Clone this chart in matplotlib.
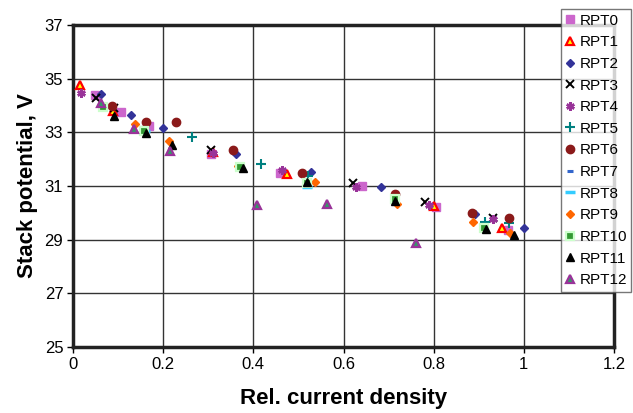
import matplotlib
matplotlib.use("Agg")
import matplotlib.pyplot as plt

series_names = ["RPT0", "RPT1", "RPT2", "RPT3", "RPT4", "RPT5", "RPT6",
                "RPT7", "RPT8", "RPT9", "RPT10", "RPT11", "RPT12"]

x_rpt0 = [0.049, 0.106, 0.169, 0.305, 0.459, 0.640, 0.806, 0.965]
y_rpt0 = [34.39, 33.77, 33.24, 32.20, 31.47, 31.00, 30.23, 29.36]
x_rpt1 = [0.0155, 0.088, 0.311, 0.474, 0.800, 0.951]
y_rpt1 = [34.76, 33.81, 32.25, 31.44, 30.27, 29.42]
x_rpt2 = [0.061, 0.129, 0.200, 0.361, 0.528, 0.683, 0.891, 1.000]
y_rpt2 = [34.43, 33.65, 33.17, 32.18, 31.53, 30.97, 29.96, 29.42]
x_rpt3 = [0.051, 0.092, 0.305, 0.622, 0.780, 0.932]
y_rpt3 = [34.27, 33.92, 32.34, 31.10, 30.41, 29.80]
x_rpt4 = [0.018, 0.311, 0.463, 0.627, 0.790, 0.932]
y_rpt4 = [34.48, 32.22, 31.60, 30.95, 30.29, 29.77]
x_rpt5 = [0.157, 0.265, 0.416, 0.522, 0.715, 0.913, 0.967]
y_rpt5 = [33.21, 32.84, 31.81, 31.37, 30.55, 29.67, 29.61]
x_rpt6 = [0.086, 0.162, 0.228, 0.355, 0.509, 0.715, 0.884, 0.967]
y_rpt6 = [33.98, 33.40, 33.37, 32.33, 31.50, 30.69, 30.00, 29.80]
x_rpt7 = [0.067, 0.520]
y_rpt7 = [33.98, 31.05]
x_rpt8 = [0.160, 0.520]
y_rpt8 = [33.05, 30.97]
x_rpt9 = [0.067, 0.137, 0.213, 0.367, 0.537, 0.719, 0.888, 0.970]
y_rpt9 = [33.96, 33.31, 32.68, 31.74, 31.14, 30.32, 29.65, 29.24]
x_rpt10 = [0.067, 0.157, 0.370, 0.520, 0.714, 0.911]
y_rpt10 = [33.94, 33.05, 31.72, 31.12, 30.50, 29.42]
x_rpt11 = [0.092, 0.161, 0.219, 0.376, 0.520, 0.714, 0.917, 0.979]
y_rpt11 = [33.62, 32.96, 32.53, 31.66, 31.14, 30.44, 29.40, 29.17]
x_rpt12 = [0.062, 0.135, 0.215, 0.409, 0.563, 0.760]
y_rpt12 = [34.08, 33.11, 32.30, 30.29, 30.33, 28.89]

xs = [x_rpt0, x_rpt1, x_rpt2, x_rpt3, x_rpt4, x_rpt5, x_rpt6,
      x_rpt7, x_rpt8, x_rpt9, x_rpt10, x_rpt11, x_rpt12]
ys = [y_rpt0, y_rpt1, y_rpt2, y_rpt3, y_rpt4, y_rpt5, y_rpt6,
      y_rpt7, y_rpt8, y_rpt9, y_rpt10, y_rpt11, y_rpt12]

x_ticks = [0, 0.2, 0.4, 0.6, 0.8, 1.0, 1.2]
x_tick_labels = ["0", "0.2", "0.4", "0.6", "0.8", "1", "1.2"]
y_ticks = [25, 27, 29, 31, 33, 35, 37]

styles = [
    dict(marker="s", ms=5.5, mfc="#CC66CC", mec="#CC66CC"),
    dict(marker="^", ms=6, mfc="#FFFF00", mec="#FF0000", mew=1.6),
    dict(marker="D", ms=4.5, mfc="#333399", mec="#333399"),
    dict(marker="x", ms=5.5, mfc="none", mec="#000000", mew=1.4),
    dict(marker=(6, 2, 0), ms=6, mfc="none", mec="#993399", mew=1.8),
    dict(marker="+", ms=7, mfc="none", mec="#008080", mew=1.5),
    dict(marker="o", ms=6, mfc="#8B1A1A", mec="#8B1A1A"),
    dict(marker="_", ms=4, mfc="none", mec="#3366CC", mew=2.2),
    dict(marker="_", ms=7, mfc="none", mec="#33CCFF", mew=2.5),
    dict(marker="D", ms=4.5, mfc="#FF6600", mec="#FF6600"),
    dict(marker="s", ms=5.5, mfc="#339933", mec="#CCFFCC", mew=1.6),
    dict(marker="^", ms=6, mfc="#000000", mec="#000000"),
    dict(marker="^", ms=6, mfc="#339966", mec="#993399", mew=1.6),
]

plt.rcParams["font.family"] = ["Liberation Sans", "DejaVu Sans"]

fig = plt.figure(figsize=(6.33, 4.13), dpi=100)
ax = fig.add_axes([73 / 633, 1 - 347 / 413, 541 / 633, 322 / 413])

handles = []
for name, x, y, st in zip(series_names, xs, ys, styles):
    h, = ax.plot(x, y, linestyle="none", label=name, zorder=3, **st)
    handles.append(h)

ax.set_xlim(0, 1.2)
ax.set_ylim(25, 37)
ax.set_xticks(x_ticks)
ax.set_xticklabels(x_tick_labels)
ax.set_yticks(y_ticks)
ax.grid(True, color="#333333", linewidth=1.0)
ax.set_axisbelow(True)
for sp in ax.spines.values():
    sp.set_linewidth(2.5)
    sp.set_color("#222222")
ax.tick_params(direction="out", length=4, width=1, labelsize=12, pad=3)

ax.set_xlabel("Rel. current density", fontsize=16, fontweight="bold", labelpad=12)
ax.set_ylabel("Stack potential, V", fontsize=16, fontweight="bold", labelpad=5)

leg = fig.legend(handles=handles, loc="upper left",
                 bbox_to_anchor=(561 / 633, 1 - 9 / 413),
                 frameon=True, fancybox=False, fontsize=11,
                 handlelength=0.6, handletextpad=0.3, borderpad=0.3,
                 labelspacing=0.5, borderaxespad=0)
leg.get_frame().set_edgecolor("#555555")
leg.get_frame().set_linewidth(1.0)

fig.savefig("out.png", dpi=100)
